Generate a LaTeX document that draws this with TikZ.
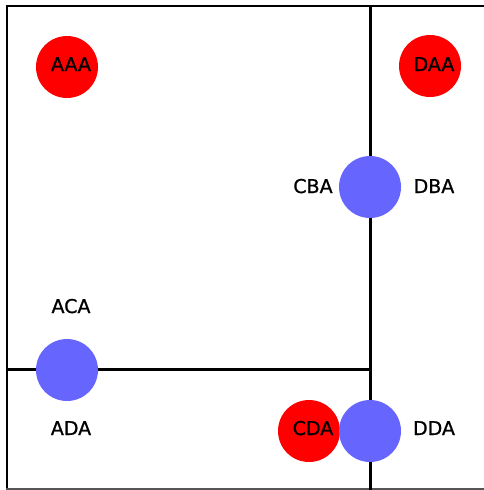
\documentclass[tikz,border=0pt]{standalone}
\usepackage{fontspec}
\setmainfont{DejaVu Sans}
\newfontfamily\lblfont{DejaVu Sans}[FakeBold=1]
\definecolor{dotred}{HTML}{FF0000}
\definecolor{dotblue}{HTML}{6666FF}
\definecolor{edgegray}{HTML}{555555}
\tikzset{
  reddot/.style={circle,fill=dotred,draw=none,minimum size=62pt,inner sep=0pt},
  bluedot/.style={circle,fill=dotblue,draw=none,minimum size=62pt,inner sep=0pt},
  lbl/.style={anchor=base,inner sep=0pt,font=\lblfont\fontsize{19}{22}\selectfont,text=black},
  frameline/.style={line width=2pt,black},
  splitline/.style={line width=3pt,black}
}
\begin{document}
\begin{tikzpicture}[x=1pt,y=-1pt]
\useasboundingbox (0,0) rectangle (484,490);
\fill[white] (0,0) rectangle (484,490);
% frame corners
\coordinate (tl) at (6,6);
\coordinate (tr) at (484,6);
\coordinate (bl) at (7,490);
\coordinate (bbl) at (6,489);
\coordinate (bbr) at (484,489);
% split lines
\coordinate (vtop) at (370,6);
\coordinate (vbot) at (370,490);
\coordinate (hleft) at (6,369);
\coordinate (hright) at (371.5,369);
\draw[frameline] (tl) -- (tr);
\draw[frameline] (7,6) -- (bl);
\draw[line width=1.5pt,edgegray] (bbl) -- (bbr);
\draw[splitline] (vtop) -- (vbot);
\draw[splitline] (hleft) -- (hright);
% dots
\node[reddot] (aaa) at (67,67) {};
\node[reddot] (daa) at (430,66) {};
\node[bluedot] (cba) at (370,187) {};
\node[bluedot] (ada) at (67,370) {};
\node[reddot] (cda) at (309,431) {};
\node[bluedot] (dda) at (370,431) {};
% labels
\node[lbl] (taaa) at (71,71) {AAA};
\node[lbl] (tdaa) at (434,71) {DAA};
\node[lbl] (tcba) at (313,193) {CBA};
\node[lbl] (tdba) at (434,193) {DBA};
\node[lbl] (taca) at (71,313) {ACA};
\node[lbl] (tada) at (71,435) {ADA};
\node[lbl] (tcda) at (313,435) {CDA};
\node[lbl] (tdda) at (434,435) {DDA};
\end{tikzpicture}
\end{document}
